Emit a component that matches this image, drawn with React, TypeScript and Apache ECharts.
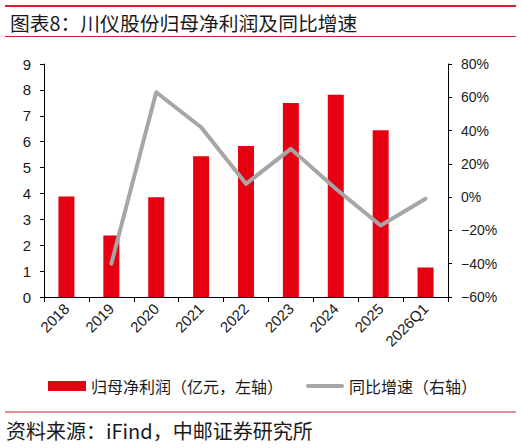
import React, { useEffect, useRef } from "react";
import * as echarts from "echarts";

const categories = ["2018", "2019", "2020", "2021", "2022", "2023", "2024", "2025", "2026Q1"];
const netProfit = [3.88, 2.38, 3.85, 5.44, 5.83, 7.49, 7.81, 6.44, 1.14];
const yoyGrowth: (number | null)[] = [null, -40, 63, 42, 8, 29, 5, -17, -1];
const leftTicks = { min: 0, max: 9, interval: 1 };
const rightTicks = { min: -60, max: 80, interval: 20 };

const TITLE = "图表8：川仪股份归母净利润及同比增速";
const SOURCE = "资料来源：iFind，中邮证券研究所";
const BAR_NAME = "归母净利润（亿元，左轴）";
const LINE_NAME = "同比增速（右轴）";

const RED = "#E50012";
const GRAY = "#A6A6A6";
const LINE_RED = "#D2232A";
const CJK = "'Noto Sans CJK SC', sans-serif";
const NUM = "'Liberation Sans', Arial, sans-serif";

export default function App() {
  const ref = useRef<HTMLDivElement>(null);
  useEffect(() => {
    document.body.style.margin = "0";
    if (!ref.current) return;
    const chart = echarts.init(ref.current, undefined, { renderer: "svg" });
    chart.setOption({
      animation: false,
      backgroundColor: "#fff",
      title: {
        text: TITLE,
        left: 5,
        top: 8,
        textStyle: { fontFamily: CJK, fontSize: 19.8, fontWeight: "normal", color: "#1a1a1a" },
      },
      graphic: [
        { type: "rect", shape: { x: 5, y: 5, width: 511, height: 2 }, style: { fill: LINE_RED } },
        { type: "rect", shape: { x: 5, y: 36, width: 511, height: 1 }, style: { fill: LINE_RED } },
        { type: "rect", shape: { x: 5, y: 411.5, width: 511, height: 1 }, style: { fill: LINE_RED } },
        {
          type: "text",
          left: 6,
          top: 420,
          style: { text: SOURCE, fontFamily: CJK, fontSize: 20, fill: "#1a1a1a" },
        },
      ],
      legend: {
        left: 43,
        top: 373,
        itemWidth: 38,
        itemHeight: 10,
        itemGap: 23,
        textStyle: { fontFamily: CJK, fontSize: 16, color: "#1a1a1a" },
        data: [
          { name: BAR_NAME, icon: "rect" },
          {
            name: LINE_NAME,
            icon: "path://M2,0 L38,0 A2,2 0 0 1 38,4 L2,4 A2,2 0 0 1 2,0 Z",
            itemStyle: { color: GRAY },
          },
        ],
      },
      grid: { left: 44, right: 73, top: 64, bottom: 151 },
      xAxis: {
        type: "category",
        data: categories,
        boundaryGap: true,
        axisLine: { lineStyle: { color: "#000", width: 1 } },
        axisTick: { show: true, length: 5, lineStyle: { color: "#000" } },
        axisLabel: {
          rotate: 45,
          margin: 9,
          interval: 0,
          fontFamily: NUM,
          fontSize: 15,
          color: "#1a1a1a",
        },
      },
      yAxis: [
        {
          type: "value",
          position: "left",
          min: leftTicks.min,
          max: leftTicks.max,
          interval: leftTicks.interval,
          splitLine: { show: false },
          axisLine: { show: true, lineStyle: { color: "#000", width: 1 } },
          axisTick: { show: true, length: 4, lineStyle: { color: "#000" } },
          axisLabel: { margin: 13, fontFamily: NUM, fontSize: 15, color: "#1a1a1a" },
        },
        {
          type: "value",
          position: "right",
          min: rightTicks.min,
          max: rightTicks.max,
          interval: rightTicks.interval,
          splitLine: { show: false },
          axisLine: { show: true, lineStyle: { color: "#000", width: 1 } },
          axisTick: { show: true, length: 4, lineStyle: { color: "#000" } },
          axisLabel: {
            margin: 13,
            fontFamily: NUM,
            fontSize: 14,
            color: "#1a1a1a",
            formatter: (v: number) => `${v}%`.replace("-", "−"),
          },
        },
      ],
      series: [
        {
          name: BAR_NAME,
          type: "bar",
          data: netProfit,
          barWidth: 16,
          itemStyle: { color: RED },
          yAxisIndex: 0,
        },
        {
          name: LINE_NAME,
          type: "line",
          data: yoyGrowth,
          yAxisIndex: 1,
          symbol: "none",
          connectNulls: false,
          lineStyle: { color: GRAY, width: 4, cap: "round", join: "round" },
          itemStyle: { color: GRAY },
        },
      ],
    });
    return () => chart.dispose();
  }, []);
  return <div ref={ref} style={{ width: 521, height: 448 }} />;
}
